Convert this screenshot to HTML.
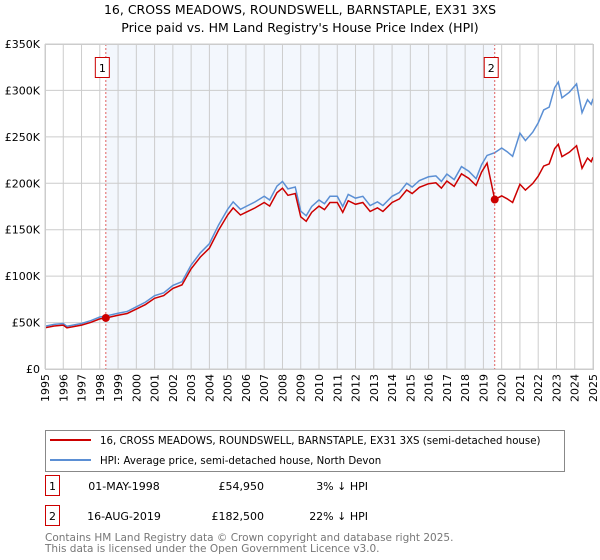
<!DOCTYPE html>
<html><head><meta charset="utf-8"><style>
body{margin:0;background:#fff;font-family:"Liberation Sans","DejaVu Sans",sans-serif;}
svg{display:block}
</style></head><body>
<svg width="600" height="560" id="c" font-family="DejaVu Sans, Liberation Sans, sans-serif">
<text x="300" y="14" text-anchor="middle" font-size="12.5" fill="#000">16, CROSS MEADOWS, ROUNDSWELL, BARNSTAPLE, EX31 3XS</text>
<text x="300" y="32" text-anchor="middle" font-size="12.5" fill="#000">Price paid vs. HM Land Registry's House Price Index (HPI)</text>
<g id="plot"></g>
<g>
<rect x="45.5" y="430.5" width="519" height="41" fill="#fff" stroke="#888"/>
<line x1="50" y1="440" x2="91" y2="440" stroke="#cc0000" stroke-width="2"/>
<text x="100" y="444" font-size="10.2">16, CROSS MEADOWS, ROUNDSWELL, BARNSTAPLE, EX31 3XS (semi-detached house)</text>
<line x1="50" y1="460" x2="91" y2="460" stroke="#5b8fd4" stroke-width="2"/>
<text x="100" y="464" font-size="10.2">HPI: Average price, semi-detached house, North Devon</text>
</g>
<g font-size="11">
<rect x="45.5" y="475.5" width="14" height="20" fill="#fff" stroke="#cc0000"/><text x="52.5" y="490" text-anchor="middle">1</text>
<text x="124" y="490" text-anchor="middle">01-MAY-1998</text><text x="264" y="490" text-anchor="end">£54,950</text><text x="368" y="490" text-anchor="end">3% ↓ HPI</text>
<rect x="45.5" y="505.5" width="14" height="20" fill="#fff" stroke="#cc0000"/><text x="52.5" y="520" text-anchor="middle">2</text>
<text x="124" y="520" text-anchor="middle">16-AUG-2019</text><text x="264" y="520" text-anchor="end">£182,500</text><text x="368" y="520" text-anchor="end">22% ↓ HPI</text>
</g>
<text x="45" y="541" font-size="10.5" fill="#777">Contains HM Land Registry data © Crown copyright and database right 2025.</text>
<text x="45" y="552" font-size="10.5" fill="#777">This data is licensed under the Open Government Licence v3.0.</text>
</svg>
<script>
const hpiYears=[1995,1995.5,1996,1996.2,1997,1997.5,1998,1998.33,1999,1999.5,2000,2000.5,2001,2001.5,2002,2002.5,2003,2003.5,2004,2004.5,2005,2005.3,2005.7,2006,2006.5,2007,2007.3,2007.7,2008,2008.3,2008.7,2009,2009.3,2009.6,2010,2010.3,2010.6,2011,2011.3,2011.6,2012,2012.4,2012.8,2013.2,2013.5,2014,2014.4,2014.8,2015.1,2015.5,2016,2016.4,2016.7,2017,2017.4,2017.8,2018.2,2018.6,2018.9,2019.2,2019.62,2020,2020.3,2020.6,2021,2021.3,2021.7,2022,2022.3,2022.6,2022.9,2023.1,2023.3,2023.7,2024.1,2024.4,2024.7,2024.9,2025];
const hpiValues=[46,48,49,46,49,52,56,57,60,62,67,72,79,82,90,94,112,125,135,155,172,180,172,175,180,186,182,197,202,194,196,170,165,175,182,178,186,186,175,188,184,186,176,180,176,186,190,200,196,203,207,208,202,210,204,218,213,205,220,230,233,238,234,229,254,246,255,265,279,282,303,309,292,298,307,276,290,285,291];
const saleYears=[1998.33,2019.62];
const salePrices=[54.95,182.5];
const yTicks=[0,50,100,150,200,250,300,350];
const yTickLabels=["£0","£50K","£100K","£150K","£200K","£250K","£300K","£350K"];
const xTicks=[1995,1996,1997,1998,1999,2000,2001,2002,2003,2004,2005,2006,2007,2008,2009,2010,2011,2012,2013,2014,2015,2016,2017,2018,2019,2020,2021,2022,2023,2024,2025];

const NS="http://www.w3.org/2000/svg";
const L=45,R=593,T=44,B=369;
const xs=y=>L+(y-1995)/30*(R-L);
const ys=v=>B-v/350*(B-T);
const g=document.getElementById('plot');
function mk(t,a){const e=document.createElementNS(NS,t);for(const k in a)e.setAttribute(k,a[k]);g.appendChild(e);return e;}
let e=mk('rect',{x:xs(saleYears[0]),y:T,width:xs(saleYears[1])-xs(saleYears[0]),height:B-T,fill:'#f3f7fd'});


xTicks.forEach((t,i)=>{
 let l=mk('line',{x1:xs(t),x2:xs(t),y1:T,y2:B,stroke:'#ccc','stroke-width':1});
 
 
 let tx=mk('text',{x:0,y:0,'font-size':11,'text-anchor':'end',transform:`translate(${xs(t)+4},374) rotate(-90)`});
 tx.textContent=t;
 
 
});
yTicks.forEach((t,i)=>{
 let l=mk('line',{x1:L,x2:R,y1:ys(t),y2:ys(t),stroke:'#ccc','stroke-width':1});
 
 
 let tx=mk('text',{x:40,y:ys(t)+4,'font-size':11,'text-anchor':'end'});
 tx.textContent=yTickLabels[i];
 
 
});
function hpiAt(y){for(let i=1;i<hpiYears.length;i++){if(y<=hpiYears[i]){const f=(y-hpiYears[i-1])/(hpiYears[i]-hpiYears[i-1]);return hpiValues[i-1]+f*(hpiValues[i]-hpiValues[i-1]);}}return hpiValues[hpiValues.length-1];}
const r1=salePrices[0]/hpiAt(saleYears[0]), r2=salePrices[1]/hpiAt(saleYears[1]);
let pts=[];
hpiYears.forEach((y,i)=>{
 if(y>saleYears[1]&&pts.length&&pts[pts.length-1][0]<saleYears[1]){pts.push([saleYears[1],hpiAt(saleYears[1])*r1]);pts.push([saleYears[1],salePrices[1]]);}
 pts.push([y,hpiValues[i]*(y<saleYears[1]?r1:r2)]);
});
let p=mk('polyline',{points:hpiYears.map((y,i)=>xs(y)+','+ys(hpiValues[i])).join(' '),fill:'none',stroke:'#5b8fd4','stroke-width':1.5});


p=mk('polyline',{points:pts.map(q=>xs(q[0])+','+ys(q[1])).join(' '),fill:'none',stroke:'#cc0000','stroke-width':1.5});


saleYears.forEach((y,i)=>{
 let l=mk('line',{x1:xs(y),x2:xs(y),y1:T,y2:B,stroke:'#e06060','stroke-dasharray':'2,2','stroke-width':1});
 
 
 let c=mk('circle',{cx:xs(y),cy:ys(salePrices[i]),r:4,fill:'#cc0000'});
 
 
 let b=mk('rect',{x:xs(y)-10.5,y:57.5,width:14,height:20,fill:'#fff',stroke:'#cc0000'});
 
 
 let t=mk('text',{x:xs(y)-3.5,y:72,'font-size':11,'text-anchor':'middle'});
 t.textContent=i+1;
 
 
});
let ax=mk('rect',{x:L+0.5,y:T+0.5,width:R-L,height:B-T,fill:'none',stroke:'#ccc'});


</script>
</body></html>
